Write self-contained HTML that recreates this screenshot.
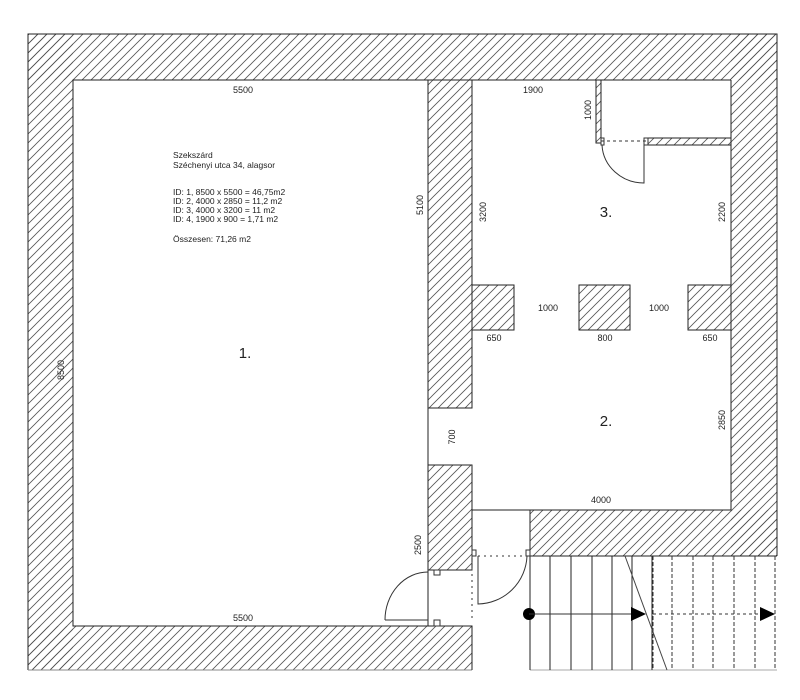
<!DOCTYPE html>
<html><head><meta charset="utf-8"><style>
html,body{margin:0;padding:0;background:#fff;}
svg{display:block;}
text{font-family:"Liberation Sans",sans-serif;fill:#222;}
</style></head><body>
<svg width="800" height="700" viewBox="0 0 800 700" xmlns="http://www.w3.org/2000/svg">
<defs>
<pattern id="h" patternUnits="userSpaceOnUse" width="9" height="9">
<path d="M-1,10 L10,-1 M-1,1 L1,-1 M8,10 L10,8" stroke="#555" stroke-width="0.8"/>
</pattern>
</defs>
<g fill="url(#h)" stroke="none">
<rect x="28" y="34" width="749" height="46"/>
<rect x="28" y="34" width="45" height="636"/>
<rect x="28" y="626" width="444" height="44"/>
<rect x="731" y="34" width="46" height="522"/>
<rect x="530" y="510" width="247" height="46"/>
<rect x="428" y="80" width="44" height="328"/>
<rect x="428" y="465" width="44" height="105"/>
<rect x="472" y="285" width="42" height="45"/>
<rect x="579" y="285" width="51" height="45"/>
<rect x="688" y="285" width="43" height="45"/>
<rect x="596" y="80" width="5" height="63"/>
<rect x="648" y="138" width="83" height="7"/>
</g>
<g fill="none" stroke="#222" stroke-width="1">
<path d="M28,670 V34 H777 V556"/>
<path d="M28,670 H472" stroke="#888"/>
<path d="M530,670 H777" stroke="#aaa"/>
<rect x="73" y="80" width="355" height="546"/>
<rect x="428" y="80" width="44" height="328"/>
<rect x="428" y="465" width="44" height="105"/>
<path d="M428,626 H472 V670"/>
<path d="M472,80 H731"/>
<path d="M596,80 V143 H601 V80"/>
<path d="M648,145 V138 H731 M648,145 H731"/>
<path d="M731,80 V510 H472"/>
<rect x="472" y="285" width="42" height="45"/>
<rect x="579" y="285" width="51" height="45"/>
<rect x="688" y="285" width="43" height="45"/>
<path d="M530,510 V670 M530,556 H777"/>
</g>
<g stroke="#222" stroke-width="1">
<line x1="550" y1="556" x2="550" y2="670"/><line x1="571" y1="556" x2="571" y2="670"/>
<line x1="592" y1="556" x2="592" y2="670"/><line x1="612" y1="556" x2="612" y2="670"/>
<line x1="632" y1="556" x2="632" y2="670"/><line x1="652" y1="556" x2="652" y2="670"/>
</g>
<g stroke="#333" stroke-width="1" stroke-dasharray="4,2">
<line x1="653" y1="556" x2="653" y2="670"/><line x1="672" y1="556" x2="672" y2="670"/>
<line x1="693" y1="556" x2="693" y2="670"/><line x1="713" y1="556" x2="713" y2="670"/>
<line x1="734" y1="556" x2="734" y2="670"/><line x1="755" y1="556" x2="755" y2="670"/>
<line x1="775" y1="556" x2="775" y2="670"/>
</g>
<line x1="625" y1="556" x2="667" y2="670" stroke="#444"/>
<circle cx="529" cy="614" r="6" fill="#000"/>
<line x1="529" y1="614" x2="633" y2="614" stroke="#333"/>
<polygon points="631,607 646,614 631,621" fill="#000"/>
<line x1="653" y1="614" x2="762" y2="614" stroke="#333" stroke-dasharray="3,3"/>
<polygon points="760,607 775,614 760,621" fill="#000"/>
<g fill="none" stroke="#333" stroke-width="1">
<path d="M472,556 H527" stroke-dasharray="2,4"/>
<path d="M472,556 V622" stroke-dasharray="2,4"/>
<rect x="472" y="550" width="4" height="6"/><rect x="526" y="550" width="4" height="6"/>
<path d="M478,556 V604 A50,50 0 0 0 527,556"/>
<path d="M385,620 H428 M385,620 A43,48 0 0 1 428,572"/>
<rect x="434" y="570" width="6" height="5"/><rect x="434" y="620" width="6" height="6"/>
<path d="M601,141 H648" stroke-dasharray="3,3"/>
<path d="M644,145 V183 A42,40 0 0 1 602,145"/>
<rect x="601" y="138" width="3" height="7"/><rect x="644" y="138" width="4" height="7"/>
</g>
<g font-size="9">
<text x="243" y="93" text-anchor="middle">5500</text>
<text x="243" y="621" text-anchor="middle">5500</text>
<text x="533" y="93" text-anchor="middle">1900</text>
<text x="548" y="311" text-anchor="middle">1000</text>
<text x="659" y="311" text-anchor="middle">1000</text>
<text x="494" y="341" text-anchor="middle">650</text>
<text x="605" y="341" text-anchor="middle">800</text>
<text x="710" y="341" text-anchor="middle">650</text>
<text x="601" y="503" text-anchor="middle">4000</text>
<text transform="translate(64,370) rotate(-90)" text-anchor="middle">8500</text>
<text transform="translate(423,205) rotate(-90)" text-anchor="middle">5100</text>
<text transform="translate(486,212) rotate(-90)" text-anchor="middle">3200</text>
<text transform="translate(591,110) rotate(-90)" text-anchor="middle">1000</text>
<text transform="translate(725,212) rotate(-90)" text-anchor="middle">2200</text>
<text transform="translate(455,437) rotate(-90)" text-anchor="middle">700</text>
<text transform="translate(725,420) rotate(-90)" text-anchor="middle">2850</text>
<text transform="translate(421,545) rotate(-90)" text-anchor="middle">2500</text>
</g>
<g font-size="15">
<text x="245" y="358" text-anchor="middle">1.</text>
<text x="606" y="426" text-anchor="middle">2.</text>
<text x="606" y="217" text-anchor="middle">3.</text>
</g>
<g font-size="8.5">
<text x="173" y="158">Szekszárd</text>
<text x="173" y="168">Széchenyi utca 34, alagsor</text>
<text x="173" y="195">ID: 1, 8500 x 5500 = 46,75m2</text>
<text x="173" y="204">ID: 2, 4000 x 2850 = 11,2 m2</text>
<text x="173" y="213">ID: 3, 4000 x 3200 = 11 m2</text>
<text x="173" y="222">ID: 4, 1900 x 900 = 1,71 m2</text>
<text x="173" y="242">Összesen: 71,26 m2</text>
</g>
</svg>
</body></html>
